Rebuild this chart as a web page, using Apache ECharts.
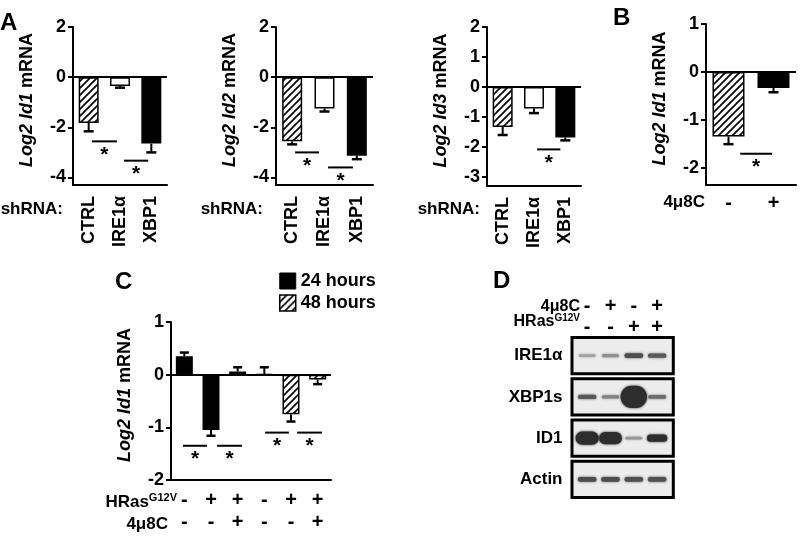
<!DOCTYPE html>
<html>
<head>
<meta charset="utf-8">
<title>Log2 Id mRNA</title>
<script src="https://cdn.jsdelivr.net/npm/echarts@6/dist/echarts.min.js"></script>
<style>
  html, body { margin: 0; padding: 0; background: #fff; }
  #chart { width: 800px; height: 540px; }
</style>
</head>
<body>
<div id="chart"></div>
<script>
// panel A: shRNA knockdown
const shCats = ['CTRL', 'IRE1α', 'XBP1'];
const id1Mean = [-1.83, -0.35, -2.65];
const id1Err = [0.33, 0.07, 0.35];
const id2Mean = [-2.56, -1.25, -3.13];
const id2Err = [0.12, 0.12, 0.14];
const id3Mean = [-1.33, -0.72, -1.68];
const id3Err = [0.27, 0.15, 0.1];
const aTicks = [2, 0, -2, -4];
const a3Ticks = [2, 1, 0, -1, -2, -3];
// significance bars: [from category, to category, y]
const sigId1 = [[0.1, 0.9, -2.56], [1.13, 1.9, -3.33]];
const sigId2 = [[0.09, 0.83, -3.0], [1.11, 1.88, -3.6]];
const sigId3 = [[1.1, 1.84, -2.08]];

// panel B: 4μ8C
const bCats = ['-', '+'];
const bMean = [-1.34, -0.33];
const bErr = [0.16, 0.09];
const bTicks = [1, 0, -1, -2];
const sigB = [[0.26, 0.97, -1.7]];

// panel C: HRas G12V, 24 / 48 hours
const cHras = ['-', '+', '+', '-', '+', '+'];
const cInhib = ['-', '-', '+', '-', '-', '+'];
const c24Mean = [0.35, -1.05, 0.06, null, null, null];
const c24Err = [0.07, 0.11, 0.08, null, null, null];
const c48Mean = [null, null, null, 0.01, -0.75, -0.09];
const c48Err = [null, null, null, 0.13, 0.14, 0.09];
const cTicks = [1, 0, -1, -2];
const sigC = [[-0.05, 0.85, -1.35], [1.23, 2.16, -1.35], [3.03, 3.92, -1.1], [4.23, 5.16, -1.1]];

// panel D: western blot, band signal per lane
const dInhib = ['-', '+', '-', '+'];
const dHras = ['-', '-', '+', '+'];
const blotRows = ['IRE1α', 'XBP1s', 'ID1', 'Actin'];
const bandIRE1a = [0.2, 0.28, 0.6, 0.55];
const bandXBP1s = [0.55, 0.35, 2.3, 0.45];
const bandID1 = [1.6, 1.5, 0.25, 0.95];
const bandActin = [0.6, 0.6, 0.58, 0.58];

const FONT = '"Liberation Sans", Arial, Helvetica, sans-serif';

// diagonal hatch fill
const makeHatch = () => {
  const c = document.createElement('canvas');
  c.width = 7; c.height = 7;
  const g = c.getContext('2d');
  g.fillStyle = '#fff';
  g.fillRect(0, 0, 7, 7);
  g.strokeStyle = '#000';
  g.lineWidth = 1.6;
  g.beginPath();
  g.moveTo(-1, 8); g.lineTo(8, -1);
  g.moveTo(-1, 1); g.lineTo(1, -1);
  g.moveTo(6, 8); g.lineTo(8, 6);
  g.stroke();
  return { image: c, repeat: 'repeat' };
};
const hatch = makeHatch();

const zeroLine = {
  silent: true,
  symbol: ['none', 'none'],
  label: { show: false },
  lineStyle: { color: '#000', width: 2, type: 'solid' },
  data: [{ yAxis: 0 }]
};

const valueAxis = (grid, min, max, ticks, gene) => ({
  type: 'value', gridIndex: grid, min, max,
  name: '{i|Log2 ' + gene + '} mRNA',
  nameLocation: 'middle', nameGap: 37,
  nameTextStyle: {
    fontFamily: FONT, fontSize: 18, fontWeight: 'bold', color: '#000', padding: [0, 0, 0, 12],
    rich: { i: { fontFamily: FONT, fontSize: 18, fontWeight: 'bold', fontStyle: 'italic', color: '#000' } }
  },
  axisLine: { show: true, onZero: false, lineStyle: { color: '#000', width: 2 } },
  axisTick: { show: true, length: 5, customValues: ticks, lineStyle: { color: '#000', width: 2 } },
  axisLabel: { customValues: ticks, margin: 7, fontFamily: FONT, fontSize: 18, fontWeight: 'bold', color: '#000' },
  splitLine: { show: false }
});

const catAxis = (grid, data, label) => ({
  type: 'category', gridIndex: grid, data,
  axisLine: { onZero: false, lineStyle: { color: '#000', width: 2 } },
  axisTick: { alignWithLabel: true, length: 6, lineStyle: { color: '#000', width: 2 } },
  axisLabel: Object.assign({ interval: 0, fontFamily: FONT, fontWeight: 'bold', color: '#000' }, label),
  splitLine: { show: false }
});

// one-sided error bars, away from zero
const errSeries = (grid, means, errs, cap) => ({
  type: 'custom', xAxisIndex: grid, yAxisIndex: grid, z: 5, silent: true,
  data: means.map((m, i) => [i, m, errs[i]]).filter(d => d[1] != null),
  renderItem: (params, api) => {
    const i = api.value(0), m = api.value(1), e = api.value(2);
    const p0 = api.coord([i, m]);
    const p1 = api.coord([i, m < 0 ? m - e : m + e]);
    return {
      type: 'group',
      children: [
        { type: 'line', shape: { x1: p0[0], y1: p0[1], x2: p1[0], y2: p1[1] }, style: { stroke: '#000', lineWidth: 2 } },
        { type: 'line', shape: { x1: p1[0] - cap, y1: p1[1], x2: p1[0] + cap, y2: p1[1] }, style: { stroke: '#000', lineWidth: 2.5 } }
      ]
    };
  }
});

// significance line with a star under it
const sigSeries = (grid, sigs) => ({
  type: 'custom', xAxisIndex: grid, yAxisIndex: grid, z: 5, silent: true,
  data: sigs,
  renderItem: (params, api) => {
    const y = api.value(2);
    const base = api.coord([0, y]);
    const bw = api.size([1, 0])[0];
    const x1 = base[0] + api.value(0) * bw;
    const x2 = base[0] + api.value(1) * bw;
    return {
      type: 'group',
      children: [
        { type: 'line', shape: { x1, y1: base[1], x2, y2: base[1] }, style: { stroke: '#000', lineWidth: 2 } },
        { type: 'text', x: (x1 + x2) / 2, y: base[1] + 3, style: { text: '*', font: 'bold 21px ' + FONT, fill: '#000', align: 'center', verticalAlign: 'top' } }
      ]
    };
  }
});

const shBars = (grid, means) => {
  const fills = [hatch, '#fff', '#000'];
  return {
    name: 'sh' + grid, type: 'bar', xAxisIndex: grid, yAxisIndex: grid, barWidth: 20,
    itemStyle: { borderColor: '#000', borderWidth: 1.5 },
    data: means.map((v, i) => ({ value: v, itemStyle: { color: fills[i] } })),
    markLine: zeroLine
  };
};

const rotLabel = { rotate: 90, margin: 11, fontSize: 18 };
const signLabel = { margin: 8, fontSize: 20 };

// blot bands as [lane, row, signal]
const bandData = [];
[bandIRE1a, bandXBP1s, bandID1, bandActin].forEach((row, r) => {
  row.forEach((s, lane) => bandData.push([lane, r, s]));
});

const option = {
  animation: false,
  backgroundColor: '#fff',
  textStyle: { fontFamily: FONT },
  grid: [
    { left: 73, top: 27, width: 94, height: 158, outerBoundsMode: 'none' },
    { left: 276, top: 27, width: 97, height: 158, outerBoundsMode: 'none' },
    { left: 487, top: 27, width: 94, height: 159, outerBoundsMode: 'none' },
    { left: 706, top: 24, width: 90, height: 161, outerBoundsMode: 'none' },
    { left: 171, top: 322, width: 160, height: 158, outerBoundsMode: 'none' },
    { left: 575.5, top: 335, width: 93.3, height: 165, outerBoundsMode: 'none' }
  ],
  xAxis: [
    catAxis(0, shCats, rotLabel),
    catAxis(1, shCats, rotLabel),
    catAxis(2, shCats, rotLabel),
    catAxis(3, bCats, signLabel),
    catAxis(4, cHras.map((h, i) => h + cInhib[i] + i), {
      margin: 9, fontSize: 20, lineHeight: 22,
      formatter: (v, i) => cHras[i] + '\n' + cInhib[i]
    }),
    {
      type: 'category', gridIndex: 5, position: 'top',
      data: dInhib.map((v, i) => v + dHras[i] + i),
      axisLine: { show: false }, axisTick: { show: false },
      axisLabel: {
        interval: 0, margin: -3, fontFamily: FONT, fontSize: 20, fontWeight: 'bold', color: '#000', lineHeight: 21,
        formatter: (v, i) => dInhib[i] + '\n' + dHras[i]
      }
    }
  ],
  yAxis: [
    valueAxis(0, -4.3, 2, aTicks, 'Id1'),
    valueAxis(1, -4.3, 2, aTicks, 'Id2'),
    valueAxis(2, -3.3, 2, a3Ticks, 'Id3'),
    valueAxis(3, -2.35, 1, bTicks, 'Id1'),
    valueAxis(4, -2, 1, cTicks, 'Id1'),
    {
      type: 'category', gridIndex: 5, inverse: true, data: blotRows,
      axisLine: { show: false }, axisTick: { show: false },
      axisLabel: { margin: 13, fontFamily: FONT, fontSize: 17, fontWeight: 'bold', color: '#000' }
    }
  ],
  legend: {
    left: 279, top: 272, orient: 'vertical', padding: 0, itemGap: 4,
    itemWidth: 16, itemHeight: 16, icon: 'rect', selectedMode: false,
    textStyle: { fontFamily: FONT, fontSize: 18, fontWeight: 'bold', color: '#000' },
    data: [
      { name: '24 hours', itemStyle: { color: '#000', borderColor: '#000', borderWidth: 1 } },
      { name: '48 hours', itemStyle: { color: hatch, borderColor: '#000', borderWidth: 1.5 } }
    ]
  },
  series: [
    shBars(0, id1Mean), errSeries(0, id1Mean, id1Err, 5), sigSeries(0, sigId1),
    shBars(1, id2Mean), errSeries(1, id2Mean, id2Err, 5), sigSeries(1, sigId2),
    shBars(2, id3Mean), errSeries(2, id3Mean, id3Err, 5), sigSeries(2, sigId3),
    {
      name: '4u8c', type: 'bar', xAxisIndex: 3, yAxisIndex: 3, barWidth: 32,
      itemStyle: { borderColor: '#000', borderWidth: 1.5 },
      data: bMean.map((v, i) => ({ value: v, itemStyle: { color: i === 0 ? hatch : '#000' } })),
      markLine: zeroLine
    },
    errSeries(3, bMean, bErr, 5), sigSeries(3, sigB),
    {
      name: '24 hours', type: 'bar', xAxisIndex: 4, yAxisIndex: 4, barWidth: 17, barGap: '-100%',
      itemStyle: { color: '#000', borderColor: '#000', borderWidth: 1.5 },
      data: c24Mean, markLine: zeroLine
    },
    {
      name: '48 hours', type: 'bar', xAxisIndex: 4, yAxisIndex: 4, barWidth: 17, barGap: '-100%',
      itemStyle: { color: hatch, borderColor: '#000', borderWidth: 1.5 },
      data: c48Mean
    },
    errSeries(4, c24Mean, c24Err, 4.5), errSeries(4, c48Mean, c48Err, 4.5), sigSeries(4, sigC),
    // blot frames
    {
      type: 'custom', xAxisIndex: 5, yAxisIndex: 5, silent: true, z: 2,
      data: blotRows.map((r, i) => [0, i]),
      renderItem: (params, api) => {
        const cs = params.coordSys;
        const cy = api.coord([0, api.value(1)])[1];
        const h = api.size([0, 1])[1] - 5;
        return {
          type: 'rect',
          shape: { x: cs.x - 3.5, y: cy - h / 2, width: cs.width + 8, height: h },
          style: { fill: '#ececec', stroke: '#000', lineWidth: 3 }
        };
      }
    },
    // blot bands
    {
      type: 'custom', xAxisIndex: 5, yAxisIndex: 5, silent: true, z: 3,
      data: bandData,
      renderItem: (params, api) => {
        const p = api.coord([api.value(0), api.value(1)]);
        const s = api.value(2);
        const h = 2 + 3 * s + 2.5 * s * s;
        const w = 16 + 4.5 * Math.min(s, 2.5);
        const g = Math.round(205 - 160 * Math.min(1, s / 0.75));
        const col = 'rgb(' + g + ',' + g + ',' + g + ')';
        return {
          type: 'rect',
          shape: { x: p[0] - w / 2, y: p[1] - h / 2, width: w, height: h, r: h / 2 },
          style: { fill: col, shadowBlur: 2.5, shadowColor: col }
        };
      }
    }
  ],
  graphic: [
    { type: 'text', x: 0, y: 23.5, style: { text: 'A', font: 'bold 24px ' + FONT, fill: '#000', align: 'left', verticalAlign: 'middle' } },
    { type: 'text', x: 613, y: 18.5, style: { text: 'B', font: 'bold 24px ' + FONT, fill: '#000', align: 'left', verticalAlign: 'middle' } },
    { type: 'text', x: 115, y: 282, style: { text: 'C', font: 'bold 24px ' + FONT, fill: '#000', align: 'left', verticalAlign: 'middle' } },
    { type: 'text', x: 493, y: 281, style: { text: 'D', font: 'bold 24px ' + FONT, fill: '#000', align: 'left', verticalAlign: 'middle' } },
    { type: 'text', x: 63, y: 209, style: { text: 'shRNA:', font: 'bold 17px ' + FONT, fill: '#000', align: 'right', verticalAlign: 'middle' } },
    { type: 'text', x: 263, y: 209, style: { text: 'shRNA:', font: 'bold 17px ' + FONT, fill: '#000', align: 'right', verticalAlign: 'middle' } },
    { type: 'text', x: 480, y: 209, style: { text: 'shRNA:', font: 'bold 17px ' + FONT, fill: '#000', align: 'right', verticalAlign: 'middle' } },
    { type: 'text', x: 705, y: 202, style: { text: '4μ8C', font: 'bold 17px ' + FONT, fill: '#000', align: 'right', verticalAlign: 'middle' } },
    {
      type: 'text', x: 177, y: 502,
      style: {
        text: '{m|HRas}{s|G12V}', align: 'right', verticalAlign: 'middle', fill: '#000',
        rich: {
          m: { font: 'bold 17px ' + FONT, lineHeight: 20 },
          s: { font: 'bold 11px ' + FONT, lineHeight: 12, verticalAlign: 'top' }
        }
      }
    },
    { type: 'text', x: 168, y: 524, style: { text: '4μ8C', font: 'bold 17px ' + FONT, fill: '#000', align: 'right', verticalAlign: 'middle' } },
    { type: 'text', x: 580, y: 307, style: { text: '4μ8C', font: 'bold 16px ' + FONT, fill: '#000', align: 'right', verticalAlign: 'middle' } },
    {
      type: 'text', x: 580, y: 322,
      style: {
        text: '{m|HRas}{s|G12V}', align: 'right', verticalAlign: 'middle', fill: '#000',
        rich: {
          m: { font: 'bold 16px ' + FONT, lineHeight: 18 },
          s: { font: 'bold 10px ' + FONT, lineHeight: 11, verticalAlign: 'top' }
        }
      }
    }
  ]
};

const chart = echarts.init(document.getElementById('chart'), null, { renderer: 'canvas' });
chart.setOption(option);
</script>
</body>
</html>
